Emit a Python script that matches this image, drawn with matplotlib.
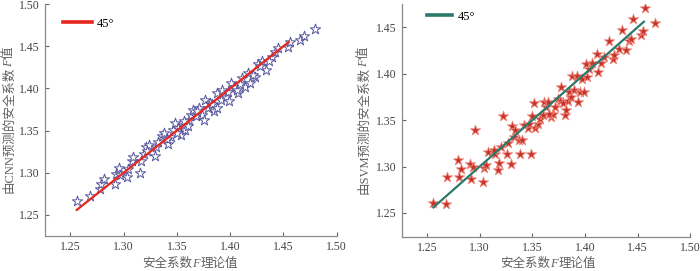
#!/usr/bin/env python3
import matplotlib
matplotlib.use("Agg")
import matplotlib.pyplot as plt

FAM = ['Liberation Serif', 'Noto Sans CJK SC']
plt.rcParams['font.family'] = FAM
plt.rcParams['axes.unicode_minus'] = False

# CNN panel: theoretical F vs predicted F
cnn_x = [1.256, 1.268, 1.278, 1.279, 1.282, 1.292, 1.293, 1.296, 1.303, 1.304,
         1.308, 1.309, 1.315, 1.316, 1.319, 1.321, 1.324, 1.329, 1.330, 1.332,
         1.336, 1.338, 1.342, 1.344, 1.346, 1.348, 1.351, 1.354, 1.356, 1.358,
         1.361, 1.363, 1.365, 1.368, 1.371, 1.374, 1.376, 1.379, 1.381, 1.385,
         1.388, 1.391, 1.392, 1.396, 1.399, 1.401, 1.404, 1.407, 1.411, 1.414,
         1.417, 1.419, 1.423, 1.426, 1.430, 1.434, 1.439, 1.442, 1.445, 1.454,
         1.456, 1.466, 1.469, 1.480, 1.341, 1.350, 1.357, 1.360, 1.369, 1.375,
         1.383, 1.388, 1.398, 1.406, 1.409, 1.421, 1.428, 1.436, 1.322, 1.297]
cnn_y = [1.267, 1.273, 1.281, 1.287, 1.293, 1.287, 1.299, 1.306, 1.295, 1.305,
         1.314, 1.319, 1.300, 1.314, 1.322, 1.330, 1.333, 1.320, 1.330, 1.336,
         1.344, 1.347, 1.334, 1.342, 1.351, 1.359, 1.353, 1.345, 1.357, 1.351,
         1.363, 1.369, 1.375, 1.367, 1.377, 1.369, 1.386, 1.377, 1.383, 1.373,
         1.394, 1.386, 1.398, 1.390, 1.385, 1.407, 1.402, 1.394, 1.412, 1.402,
         1.418, 1.406, 1.413, 1.429, 1.432, 1.422, 1.437, 1.443, 1.448, 1.449,
         1.455, 1.457, 1.462, 1.470, 1.340, 1.347, 1.361, 1.355, 1.373, 1.363,
         1.381, 1.377, 1.396, 1.398, 1.405, 1.416, 1.427, 1.432, 1.326, 1.297]

# SVM panel
svm_x = [1.256, 1.268, 1.269, 1.279, 1.280, 1.282, 1.291, 1.292, 1.294, 1.296,
         1.303, 1.304, 1.306, 1.308, 1.315, 1.317, 1.318, 1.320, 1.322, 1.326,
         1.327, 1.330, 1.331, 1.333, 1.334, 1.337, 1.338, 1.340, 1.342, 1.346,
         1.349, 1.350, 1.352, 1.353, 1.355, 1.357, 1.360, 1.361, 1.363, 1.365,
         1.368, 1.370, 1.372, 1.374, 1.376, 1.377, 1.379, 1.381, 1.382, 1.384,
         1.385, 1.387, 1.388, 1.390, 1.392, 1.393, 1.395, 1.397, 1.399, 1.401,
         1.402, 1.404, 1.407, 1.411, 1.412, 1.415, 1.418, 1.423, 1.427, 1.428,
         1.432, 1.435, 1.439, 1.442, 1.444, 1.446, 1.453, 1.455, 1.457, 1.467,
         1.366, 1.347, 1.314]
svm_y = [1.261, 1.260, 1.289, 1.307, 1.289, 1.297, 1.303, 1.287, 1.300, 1.339,
         1.283, 1.298, 1.302, 1.316, 1.314, 1.296, 1.304, 1.321, 1.354, 1.314,
         1.325, 1.303, 1.344, 1.332, 1.339, 1.329, 1.314, 1.329, 1.345, 1.341,
         1.314, 1.354, 1.368, 1.341, 1.346, 1.351, 1.355, 1.370, 1.364, 1.370,
         1.353, 1.357, 1.364, 1.373, 1.371, 1.386, 1.368, 1.355, 1.361, 1.371,
         1.380, 1.375, 1.397, 1.382, 1.398, 1.369, 1.380, 1.394, 1.380, 1.410,
         1.396, 1.405, 1.411, 1.421, 1.402, 1.411, 1.418, 1.435, 1.416, 1.420,
         1.427, 1.447, 1.426, 1.435, 1.437, 1.459, 1.442, 1.446, 1.471, 1.455,
         1.357, 1.346, 1.318]

line_cnn = [1.256, 1.455]
line_svm = [1.256, 1.456]
ticks = [1.25, 1.30, 1.35, 1.40, 1.45, 1.50]
xlabel_parts = [("安全系数", "normal"), ("F", "italic"), ("理论值", "normal")]
ylabel_cnn = [("由CNN预测的安全系数", "normal"), ("F", "italic"), ("值", "normal")]
ylabel_svm = [("由SVM预测的安全系数", "normal"), ("F", "italic"), ("值", "normal")]

W, H = 700, 271
fig = plt.figure(figsize=(7, 2.71), dpi=100)
ax0 = fig.add_axes([0.064, 0.129, 0.417, 0.856])
ax1 = fig.add_axes([0.574, 0.125, 0.412, 0.860])

def style(ax, ylim, yticks):
    for s in ["top", "right"]:
        ax.spines[s].set_visible(False)
    for s in ["left", "bottom"]:
        ax.spines[s].set_color("#8a8a8a")
        ax.spines[s].set_linewidth(0.9)
    ax.tick_params(direction="in", length=3, width=0.8, color="#666666",
                   labelsize=8.5, labelcolor="#444444")
    ax.set_xlim(1.226, 1.50)
    ax.set_ylim(*ylim)
    ax.set_xticks(ticks)
    ax.set_xticklabels(["%.2f" % t for t in ticks])
    ax.set_yticks(yticks)
    ax.set_yticklabels(["%.2f" % t for t in yticks])

# mixed-style label (italic F inside CJK text), laid out piece by piece
def mixed_label(parts, cx, cy, vertical=False, size=9):
    r = fig.canvas.get_renderer()
    widths = []
    for s, st in parts:
        t = fig.text(0, 0, s, fontsize=size, style=st, family=FAM)
        widths.append(t.get_window_extent(r).width)
        t.remove()
    pos = -sum(widths) / 2
    for (s, st), w in zip(parts, widths):
        if vertical:
            fx, fy, rot = cx / W, (cy + pos) / H, 90
        else:
            fx, fy, rot = (cx + pos) / W, 1 - cy / H, 0
        fig.text(fx, fy, s, fontsize=size, style=st, family=FAM,
                 color="#606060", rotation=rot, rotation_mode="anchor",
                 ha="left", va="baseline")
        pos += w

ax0.scatter(cnn_x, cnn_y, marker="*", s=60, facecolor="white",
            edgecolor="#55559e", linewidth=0.7, zorder=2)
ax0.plot(line_cnn, line_cnn, color="#e8261c", lw=1.6, label="45°", zorder=3)
style(ax0, (1.225, 1.50), ticks)

ax1.scatter(svm_x, svm_y, marker="*", s=60, facecolor="#c8302a",
            edgecolor="#ec8a7c", linewidth=0.6, zorder=2)
ax1.plot(line_svm, line_svm, color="#2a7a6c", lw=1.6, label="45°", zorder=3)
style(ax1, (1.224, 1.475), ticks[:-1])

# x labels: centre x, baseline y (pixels from top); y labels: baseline x, centre y (from bottom)
mixed_label(xlabel_parts, 190, 267)
mixed_label(xlabel_parts, 548, 267)
mixed_label(ylabel_cnn, 12, H - 120, vertical=True)
mixed_label(ylabel_svm, 367, H - 120, vertical=True)

leg0 = ax0.legend(loc="upper left", bbox_to_anchor=(0.025, 0.99), frameon=False,
                  fontsize=9, handlelength=2.3, handletextpad=0.4)
leg1 = ax1.legend(loc="upper left", bbox_to_anchor=(0.05, 1.02), frameon=False,
                  fontsize=9, handlelength=2.0, handletextpad=0.4)
for leg in (leg0, leg1):
    for h in leg.get_lines():
        h.set_linewidth(2.6)

fig.savefig("out.png", dpi=100)
